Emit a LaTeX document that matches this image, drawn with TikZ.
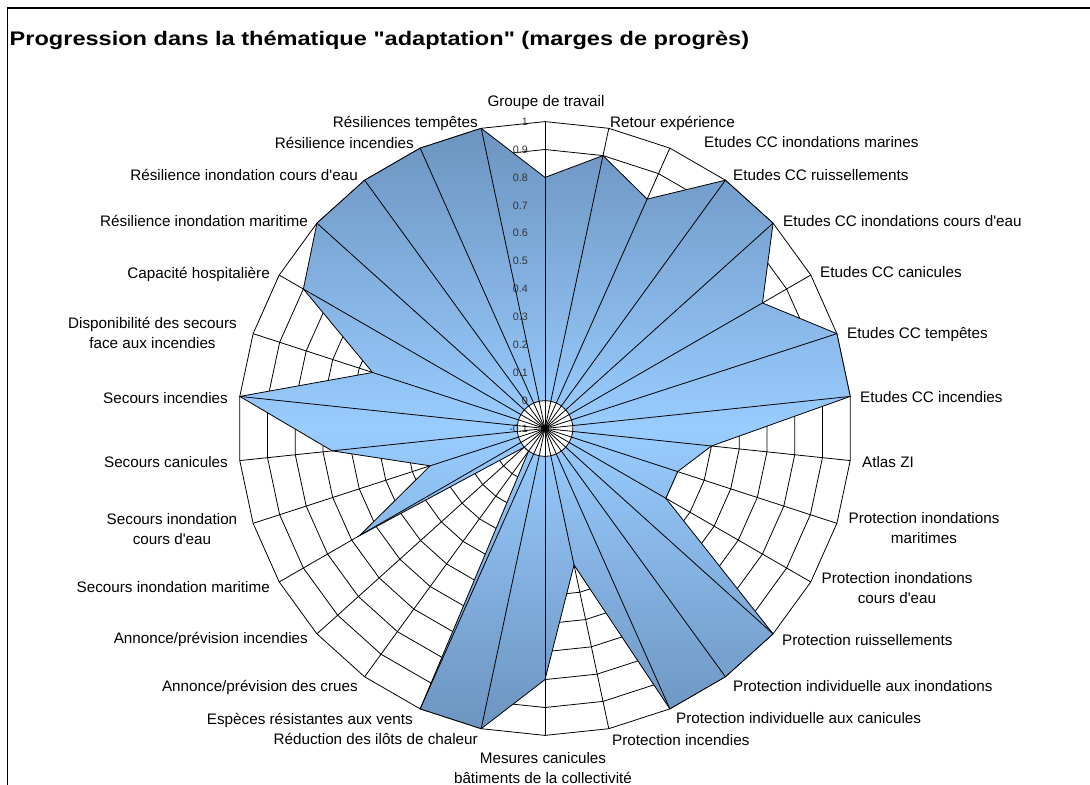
\documentclass[tikz,border=0pt]{standalone}
\usepackage{fontspec}
\setmainfont{Liberation Sans}[Ligatures=TeXOff]
\definecolor{bleuclair}{RGB}{153,204,255}
\definecolor{bleufonce}{RGB}{108,148,192}

\begin{document}
\begin{tikzpicture}[x=1bp, y=1bp]
	\tikzset{etiquette/.style={font=\fontsize{15.3}{20}\selectfont, inner sep=0pt}, ligne/.style={etiquette, text height=11bp, text depth=0bp}, deuxlignes/.style={etiquette, align=center}, graduation/.style={font=\fontsize{10.8}{12}\selectfont, text=black!80, inner sep=0pt, anchor=east}, grille/.style={draw=black, line width=0.8bp}, serie/.style={draw=black, line width=0.8bp, top color=bleufonce, bottom color=bleufonce, middle color=bleuclair}};

	\useasboundingbox (0,0) rectangle (1090,-785);
	\draw[line width=1.3bp] (7.5,-785) -- (7.5,-8) -- (1090,-8);
	\node[anchor=base west, inner sep=0pt, font=\bfseries\fontsize{19.7}{24}\selectfont] (titre) at (9.5,-46) {\scalebox{1.2}[1]{Progression dans la thématique "adaptation" (marges de progrès)}};

	\begin{scope}[shift={(545,-428.5)}]
		% anneaux
		\foreach \n in {1,...,11}
			\draw[grille] (90:{\n*27.9}) \foreach \k in {1,...,29} { -- ({90-12*\k}:{\n*27.9}) } -- cycle;
		% serie
		\draw[serie] (90:{(0.8+0.1)*279}) \foreach \v [count=\k] in {0.9,0.8,1,1,0.8,1,1,0.5,0.4,0.4,1,1,1,0.4,0.8,1,1,0,0,0.667,0.333,0.667,1,0.55,0.9,1,1,1,1} { -- ({90-12*\k}:{(\v+0.1)*279}) } -- cycle;
		% centre
		\filldraw[grille, fill=white] (90:27.9) \foreach \k in {1,...,29} { -- ({90-12*\k}:27.9) } -- cycle;
		% graduations
		\foreach \v [count=\n from 0] in {-0.1,0,0.1,0.2,0.3,0.4,0.5,0.6,0.7,0.8,0.9,1}
			\node[graduation] (g\n) at (-17,{\n*27.9}) {\v};
		% rayons
		\foreach \k in {0,...,29}
			\draw[grille] (0,0) -- ({90-12*\k}:306.9);
	\end{scope}

	% categories
	\node[ligne]                  (c1)  at (546,-101) {Groupe de travail};
	\node[ligne, anchor=west]     (c2)  at (610,-122) {Retour expérience};
	\node[ligne, anchor=west]     (c3)  at (704,-142) {Etudes CC inondations marines};
	\node[ligne, anchor=west]     (c4)  at (733,-175) {Etudes CC ruissellements};
	\node[ligne, anchor=west]     (c5)  at (783,-221) {Etudes CC inondations cours d'eau};
	\node[ligne, anchor=west]     (c6)  at (820,-272) {Etudes CC canicules};
	\node[ligne, anchor=west]     (c7)  at (847,-333) {Etudes CC tempêtes};
	\node[ligne, anchor=west]     (c8)  at (860,-397) {Etudes CC incendies};
	\node[ligne, anchor=west]     (c9)  at (862,-462) {Atlas ZI};
	\node[deuxlignes]             (c10) at (924,-528) {Protection inondations\\maritimes};
	\node[deuxlignes]             (c11) at (897,-588) {Protection inondations\\cours d'eau};
	\node[ligne, anchor=west]     (c12) at (782,-640) {Protection ruissellements};
	\node[ligne, anchor=west]     (c13) at (733,-686) {Protection individuelle aux inondations};
	\node[ligne, anchor=west]     (c14) at (676,-718) {Protection individuelle aux canicules};
	\node[ligne, anchor=west]     (c15) at (612,-740) {Protection incendies};
	\node[deuxlignes]             (c16) at (543,-768) {Mesures canicules\\bâtiments de la collectivité};
	\node[ligne, anchor=east]     (c17) at (478,-739) {Réduction des ilôts de chaleur};
	\node[ligne, anchor=east]     (c18) at (413,-719) {Espèces résistantes aux vents};
	\node[ligne, anchor=east]     (c19) at (358,-686) {Annonce/prévision des crues};
	\node[ligne, anchor=east]     (c20) at (308,-638) {Annonce/prévision incendies};
	\node[ligne, anchor=east]     (c21) at (270,-587) {Secours inondation maritime};
	\node[deuxlignes]             (c22) at (172,-529) {Secours inondation\\cours d'eau};
	\node[ligne, anchor=east]     (c23) at (228,-462) {Secours canicules};
	\node[ligne, anchor=east]     (c24) at (228,-398) {Secours incendies};
	\node[deuxlignes]             (c25) at (152.5,-333) {Disponibilité des secours\\face aux incendies};
	\node[ligne, anchor=east]     (c26) at (270,-273) {Capacité hospitalière};
	\node[ligne, anchor=east]     (c27) at (308,-221) {Résilience inondation maritime};
	\node[ligne, anchor=east]     (c28) at (358,-175) {Résilience inondation cours d'eau};
	\node[ligne, anchor=east]     (c29) at (414,-143) {Résilience incendies};
	\node[ligne, anchor=east]     (c30) at (478,-122) {Résiliences tempêtes};
\end{tikzpicture}
\end{document}
